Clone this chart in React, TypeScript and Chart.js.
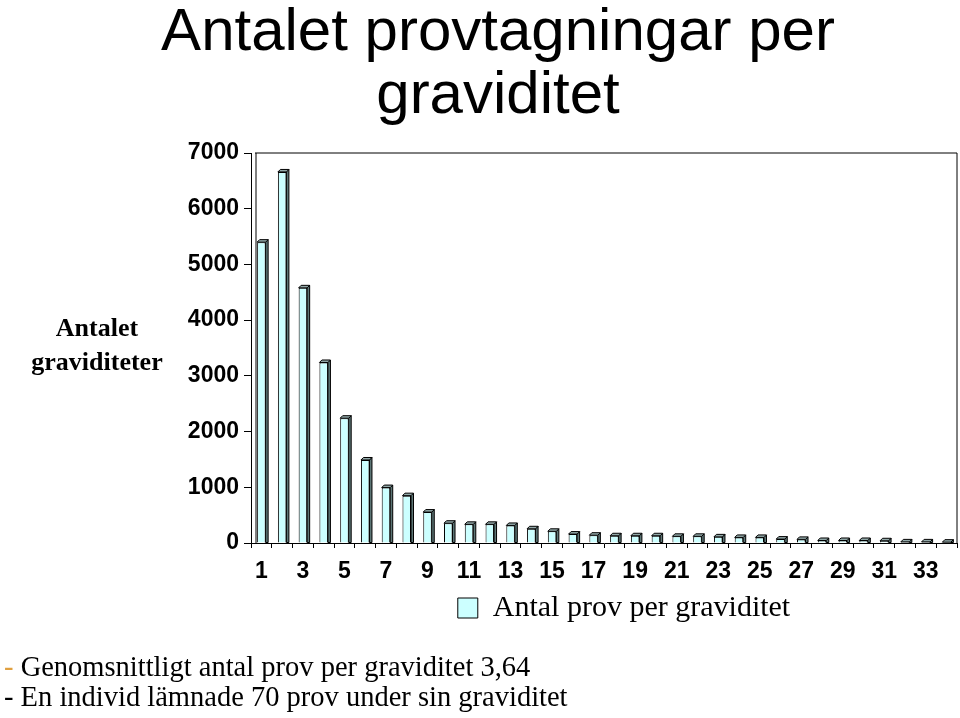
import { useEffect, useRef } from 'react'
import { Chart, registerables } from 'chart.js'
import type { Plugin } from 'chart.js'

Chart.register(...registerables)

const categories = ['1', '2', '3', '4', '5', '6', '7', '8', '9', '10', '11', '12', '13', '14', '15', '16', '17',
  '18', '19', '20', '21', '22', '23', '24', '25', '26', '27', '28', '29', '30', '31', '32', '33', '34']
const provPerGraviditet = [5400, 6660, 4580, 3240, 2240, 1490, 995, 850, 555, 355, 335, 335, 315, 255, 210, 160, 140,
  130, 130, 130, 120, 120, 110, 100, 100, 70, 65, 45, 45, 45, 40, 20, 20, 15]
const yTicks = [0, 1000, 2000, 3000, 4000, 5000, 6000, 7000]

// excel-style 3d look: side + top faces, plus the plot box frame
const bar3d: Plugin<'bar'> = {
  id: 'bar3d',
  afterLayout(chart) {
    // legend sits a bit right of the plot centre in the original
    if (chart.legend) {
      chart.legend.left += 20
      chart.legend.right += 20
    }
  },
  afterDatasetsDraw(chart) {
    const { ctx, chartArea } = chart
    const d = 2.5
    ctx.save()
    ctx.lineWidth = 1
    ctx.strokeStyle = '#000'
    chart.getDatasetMeta(0).data.forEach((el: any) => {
      const { x, y, base, width } = el.getProps(['x', 'y', 'base', 'width'], true)
      const l = x - width / 2
      const r = x + width / 2
      ctx.beginPath()
      ctx.moveTo(r, y)
      ctx.lineTo(r + d, y - d)
      ctx.lineTo(r + d, base)
      ctx.lineTo(r, base)
      ctx.closePath()
      ctx.fillStyle = '#5d7676'
      ctx.fill()
      ctx.stroke()
      ctx.beginPath()
      ctx.moveTo(l, y)
      ctx.lineTo(l + d, y - d)
      ctx.lineTo(r + d, y - d)
      ctx.lineTo(r, y)
      ctx.closePath()
      ctx.fillStyle = '#92a8a8'
      ctx.fill()
      ctx.stroke()
    })
    ctx.beginPath()
    ctx.moveTo(chartArea.left + 5, chartArea.bottom)
    ctx.lineTo(chartArea.left + 5, chartArea.top)
    ctx.moveTo(chartArea.left + 4, chartArea.top)
    ctx.lineTo(chartArea.right, chartArea.top)
    ctx.lineTo(chartArea.right, chartArea.bottom)
    ctx.stroke()
    ctx.restore()
  },
}

export default function App() {
  const canvasRef = useRef<HTMLCanvasElement>(null)
  const chartRef = useRef<Chart | null>(null)

  useEffect(() => {
    if (!canvasRef.current) return
    chartRef.current?.destroy()

    chartRef.current = new Chart(canvasRef.current, {
      type: 'bar',
      data: {
        labels: categories,
        datasets: [
          {
            label: 'Antal prov per graviditet',
            data: provPerGraviditet,
            backgroundColor: '#ccffff',
            borderColor: '#000',
            borderWidth: 1,
            barPercentage: 0.41,
            categoryPercentage: 1,
          },
        ],
      },
      options: {
        animation: false,
        responsive: true,
        maintainAspectRatio: false,
        layout: { padding: { top: 153, right: 3, left: 0, bottom: 85 } },
        plugins: {
          tooltip: { enabled: false },
          legend: {
            position: 'bottom',
            fullSize: false,
            labels: {
              color: '#000',
              boxWidth: 20,
              boxHeight: 20,
              padding: 10,
              font: { family: '"Liberation Serif", serif', size: 30 },
            },
          },
        },
        scales: {
          x: {
            afterFit: s => { s.height = 40 },
            grid: { drawOnChartArea: false, color: '#000', tickLength: 5, offset: true },
            border: { color: '#000' },
            ticks: {
              autoSkip: false,
              maxRotation: 0,
              padding: 10,
              color: '#000',
              font: { family: '"Liberation Sans", Arial, sans-serif', size: 23, weight: 'bold' },
              callback: (_v, i) => (i % 2 === 0 ? categories[i] : ''),
            },
          },
          y: {
            min: 0,
            max: 7000,
            afterFit: s => { s.width = 251 },
            afterBuildTicks: s => { s.ticks = yTicks.map(v => ({ value: v })) },
            grid: { drawOnChartArea: false, color: '#000', tickLength: 7 },
            border: { color: '#000' },
            ticks: {
              padding: 5,
              color: '#000',
              font: { family: '"Liberation Sans", Arial, sans-serif', size: 23, weight: 'bold' },
              callback: v => String(v),
            },
          },
        },
      },
      plugins: [bar3d],
    })

    return () => chartRef.current?.destroy()
  }, [])

  return (
    <div style={{ position: 'absolute', left: 0, top: 0, width: 960, height: 718, background: '#fff' }}>
      <canvas ref={canvasRef} />
      <div style={{
        position: 'absolute', left: 0, top: -2, width: 996, textAlign: 'center',
        font: '60px/63px "Liberation Sans", Arial, sans-serif', color: '#000',
      }}>
        Antalet provtagningar per<br />graviditet
      </div>
      <div style={{
        position: 'absolute', left: 0, top: 311, width: 194, textAlign: 'center',
        font: 'bold 26px/34px "Liberation Serif", serif', color: '#000',
      }}>
        Antalet<br />graviditeter
      </div>
      <div style={{
        position: 'absolute', left: 4, top: 652, font: '28.5px/30px "Liberation Serif", serif', color: '#000',
      }}>
        <div><span style={{ color: '#e0a040' }}>-</span> Genomsnittligt antal prov per graviditet 3,64</div>
        <div>- En individ lämnade 70 prov under sin graviditet</div>
      </div>
    </div>
  )
}
